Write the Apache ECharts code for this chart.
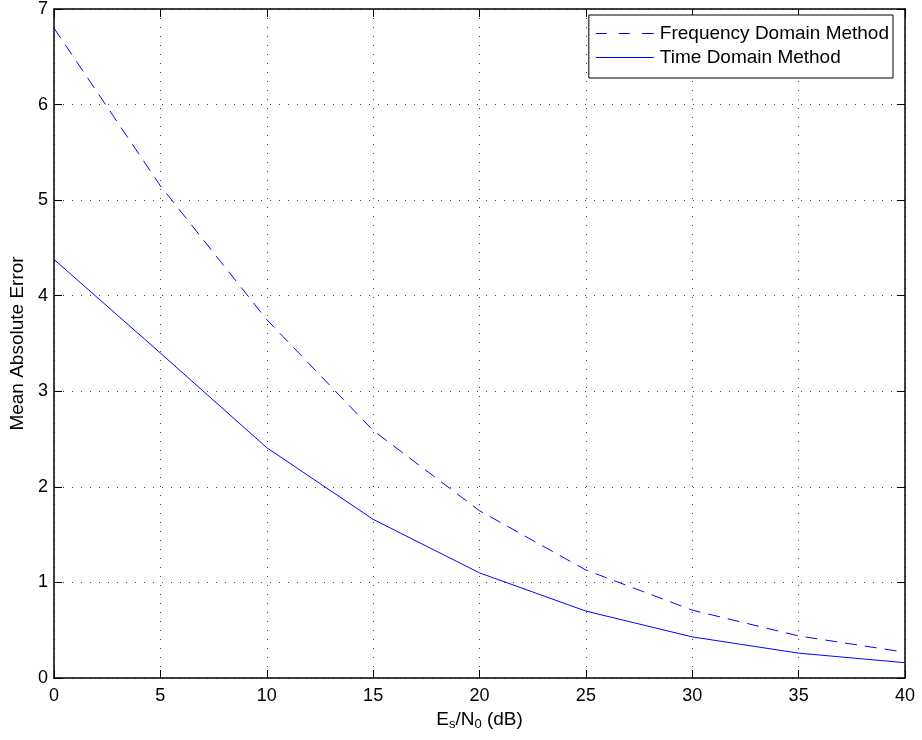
<!DOCTYPE html>
<html><head><meta charset="utf-8">
<script src="https://cdn.jsdelivr.net/npm/echarts@6/dist/echarts.min.js"></script>
<style>html,body{margin:0;padding:0;background:#fff}#c{width:922px;height:740px}</style>
</head><body><div id="c"></div>
<script>
const snr = [0, 5, 10, 15, 20, 25, 30, 35, 40];
const freqDomain = [6.8, 5.15, 3.75, 2.59, 1.75, 1.13, 0.71, 0.44, 0.27];
const timeDomain = [4.38, 3.4, 2.41, 1.66, 1.1, 0.7, 0.43, 0.26, 0.16];
const seriesNames = ['Frequency Domain Method', 'Time Domain Method'];

const FONT = 'Liberation Sans, Arial, Helvetica, sans-serif';
const chart = echarts.init(document.getElementById('c'));
const pair = a => snr.map((x, i) => [x, a[i]]);
const tickStyle = {show: true, inside: true, length: 8, lineStyle: {color: '#000', width: 1}};
const axisLine = {show: true, onZero: false, lineStyle: {color: '#000', width: 1.5}};
const gridLine = {show: true, lineStyle: {color: '#444', type: [1, 8], width: 1}};
const dashIcon = 'path://M0,0H11V1H0Z M23,0H34V1H23Z M46,0H58V1H46Z';
const solidIcon = 'path://M0,0H58V1H0Z';
chart.setOption({
  animation: false,
  grid: {left: 54, right: 17, top: 7, bottom: 62, containLabel: false},
  legend: {
    orient: 'vertical', right: 29, top: 15,
    backgroundColor: '#fff', borderColor: '#000', borderWidth: 1,
    padding: [9, 4, 11, 7], itemGap: 5, itemWidth: 60, itemHeight: 1,
    textStyle: {fontFamily: FONT, fontSize: 19, color: '#000', lineHeight: 18},
    data: [{name: seriesNames[0], icon: dashIcon}, {name: seriesNames[1], icon: solidIcon}]
  },
  xAxis: [{
    type: 'value', min: 0, max: 40, interval: 5,
    name: 'E{sub|s}/N{sub|0} (dB)', nameLocation: 'middle', nameGap: 30,
    nameTextStyle: {fontFamily: FONT, fontSize: 19, color: '#000',
      rich: {sub: {fontFamily: FONT, fontSize: 13, color: '#000', padding: [10, 0, 0, 0]}}},
    axisLine: axisLine, axisTick: tickStyle,
    axisLabel: {fontFamily: FONT, fontSize: 18, color: '#000', margin: 9},
    splitLine: gridLine
  }, {
    type: 'value', min: 0, max: 40, interval: 5, position: 'top',
    axisLine: axisLine, axisTick: tickStyle, axisLabel: {show: false}, splitLine: {show: false}
  }],
  yAxis: [{
    type: 'value', min: 0, max: 7, interval: 1,
    name: 'Mean Absolute Error', nameLocation: 'middle', nameGap: 22,
    nameTextStyle: {fontFamily: FONT, fontSize: 19, color: '#000'},
    axisLine: axisLine, axisTick: tickStyle,
    axisLabel: {fontFamily: FONT, fontSize: 18, color: '#000', margin: 6},
    splitLine: gridLine
  }, {
    type: 'value', min: 0, max: 7, interval: 1, position: 'right',
    axisLine: axisLine, axisTick: tickStyle, axisLabel: {show: false}, splitLine: {show: false}
  }],
  series: [{
    name: seriesNames[0], type: 'line', data: pair(freqDomain), symbol: 'none',
    lineStyle: {color: '#0000ff', width: 1, type: [12, 8]}, itemStyle: {color: '#0000ff'}
  }, {
    name: seriesNames[1], type: 'line', data: pair(timeDomain), symbol: 'none',
    lineStyle: {color: '#0000ff', width: 1, type: 'solid'}, itemStyle: {color: '#0000ff'}
  }]
});
</script></body></html>
